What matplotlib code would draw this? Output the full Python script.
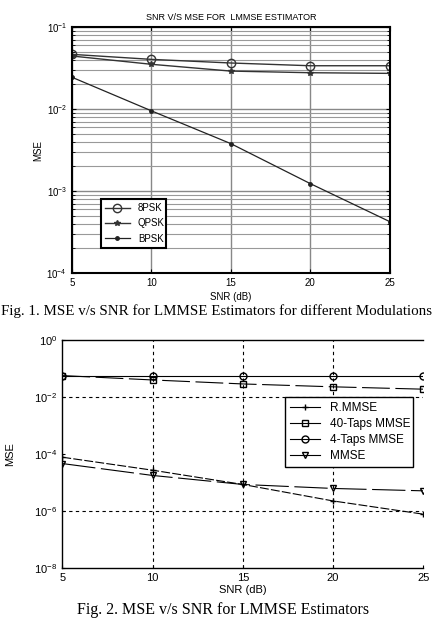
import matplotlib
matplotlib.use("Agg")
import matplotlib.pyplot as plt

plt.rcParams['font.family'] = ['Liberation Sans', 'DejaVu Sans']
plt.rcParams['mathtext.default'] = 'regular'

# Fig. 1 data: MSE for LMMSE estimator per modulation
snr = [5, 10, 15, 20, 25]
mse_8psk = [0.0464, 0.0403, 0.0364, 0.0337, 0.0337]
mse_qpsk = [0.0443, 0.0351, 0.0290, 0.0277, 0.0272]
mse_bpsk = [0.0244, 0.0095, 0.00378, 0.00123, 0.000423]

# Fig. 2 data: MSE of different estimators
mse_rmmse = [7.85e-5, 2.75e-5, 8.7e-6, 2.3e-6, 7.9e-7]
mse_40taps = [0.057, 0.040, 0.029, 0.023, 0.019]
mse_4taps = [0.056, 0.056, 0.056, 0.056, 0.056]
mse_mmse = [4.7e-5, 1.8e-5, 8.7e-6, 6.3e-6, 5.2e-6]

fig = plt.figure(figsize=(4.36, 6.34), dpi=100)

# ---- top chart ----
ax1 = fig.add_axes([0.165, 0.5694, 0.729, 0.388])
ax1.semilogy(snr, mse_8psk, color='#333333', lw=1, marker='o', ms=6, mfc='none', label='8PSK')
ax1.semilogy(snr, mse_qpsk, color='#333333', lw=1, marker='*', ms=4, label='QPSK')
ax1.semilogy(snr, mse_bpsk, color='#222222', lw=0.9, marker='.', ms=5, label='BPSK')
ax1.set_xlim(5, 25)
ax1.set_ylim(1e-4, 1e-1)
ax1.set_xticks(snr)
ax1.grid(True, which='major', color='#888888', lw=1.0)
ax1.grid(True, which='minor', axis='y', color='#999999', lw=0.8)
ax1.tick_params(which='both', direction='in', top=True, right=True, labelsize=7, length=3)
ax1.tick_params(which='minor', length=2)
for s in ax1.spines.values():
    s.set_linewidth(1.5)
ax1.set_title('SNR V/S MSE FOR  LMMSE ESTIMATOR', fontsize=6.5, pad=5)
ax1.set_xlabel('SNR (dB)', fontsize=7, labelpad=3)
ax1.set_ylabel('MSE', fontsize=7)
ax1.yaxis.set_label_coords(-0.091, 0.5)
leg1 = ax1.legend(loc='lower left', bbox_to_anchor=(0.091, 0.103, 0.205, 0.214), mode='expand',
                  borderaxespad=0, fontsize=7, fancybox=False, edgecolor='black',
                  framealpha=1, handlelength=2.6, labelspacing=0.55)
leg1.get_frame().set_linewidth(1.5)

fig.text(0.002, 1 - 311 / 634, 'Fig. 1. MSE v/s SNR for LMMSE Estimators for different Modulations',
         family='Liberation Serif', fontsize=10.8, ha='left', va='center')

# ---- bottom chart ----
ax2 = fig.add_axes([0.1429, 0.1036, 0.828, 0.360])
ax2.semilogy(snr, mse_rmmse, color='black', lw=0.8, ls=(0, (8, 2)), marker='+', ms=5, label='R.MMSE')
ax2.semilogy(snr, mse_40taps, color='black', lw=0.8, ls=(0, (25, 5)), marker='s', ms=5, mfc='none', label='40-Taps MMSE')
ax2.semilogy(snr, mse_4taps, color='black', lw=0.8, marker='o', ms=5, mfc='none', label='4-Taps MMSE')
ax2.semilogy(snr, mse_mmse, color='black', lw=0.8, ls=(0, (30, 5)), marker='v', ms=5, mfc='none', label='MMSE')
ax2.set_xlim(5, 25)
ax2.set_ylim(1e-8, 1e0)
ax2.set_xticks(snr)
ax2.set_yticks([1e-8, 1e-6, 1e-4, 1e-2, 1e0])
ax2.minorticks_off()
# dotted grid only at inner positions, as in the original
for xv in snr[1:-1]:
    ax2.axvline(xv, ls=(0, (3, 3)), color='black', lw=0.8, zorder=0.5)
for yv in [1e-2, 1e-6]:
    ax2.axhline(yv, ls=(0, (3, 3)), color='black', lw=0.8, zorder=0.5)
ax2.spines['right'].set_visible(False)
for s in ax2.spines.values():
    s.set_linewidth(1.0)
ax2.tick_params(direction='in', length=2, labelsize=8)
ax2.set_xlabel('SNR (dB)', fontsize=8, labelpad=1)
ax2.set_ylabel('MSE', fontsize=8)
ax2.yaxis.set_label_coords(-0.13, 0.5)
leg2 = ax2.legend(loc='lower left', bbox_to_anchor=(0.617, 0.444, 0.354, 0.306), mode='expand',
                  borderaxespad=0, fontsize=8.5, fancybox=False, edgecolor='black',
                  framealpha=1, handlelength=2.6, labelspacing=0.35)
leg2.get_frame().set_linewidth(1.0)
for ln in leg2.get_lines():
    ln.set_linestyle('-')

fig.text(223 / 436, 1 - 610 / 634, 'Fig. 2. MSE v/s SNR for LMMSE Estimators',
         family='Liberation Serif', fontsize=11.5, ha='center', va='center')

fig.savefig('out.png', dpi=100)
